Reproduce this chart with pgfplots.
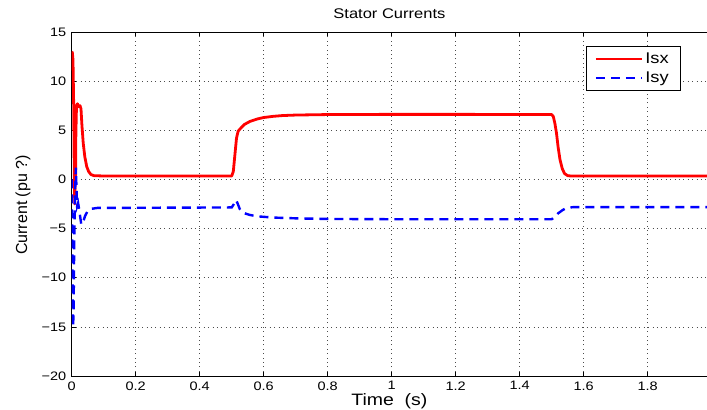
\documentclass[border=0pt]{standalone}
\usepackage{fontspec}
\setmainfont[FakeStretch=1.18]{Liberation Sans}
\newfontfamily\plainfont{Liberation Sans}
\usepackage{pgfplots}
\pgfplotsset{compat=1.18}
\begin{document}
\begin{tikzpicture}
\begin{axis}[
  at={(71.7bp,34bp)}, anchor=south west,
  width=640bp, height=344bp, scale only axis,
  xmin=0, xmax=2, ymin=-20, ymax=15,
  xtick={0,0.2,0.4,0.6,0.8,1,1.2,1.4,1.6,1.8,2},
  xticklabels={0,0.2,0.4,0.6,0.8,1,1.2,1.4,1.6,1.8,{}},
  ytick={-20,-15,-10,-5,0,5,10,15},
  yticklabels={−20,−15,−10,−5,0,5,10,15},
  tick align=inside,
  major tick length=4bp,
  tick style={black, line width=0.6bp},
  axis line style={black, line width=0.8bp},
  grid=major,
  major grid style={black!70, line width=0.5bp, dash pattern=on 0.8bp off 3.6bp},
  tick label style={font=\fontsize{12.3bp}{14bp}\selectfont},
  xticklabel style={yshift=-2bp},
  yticklabel style={xshift=-2bp},
  title={Stator Currents},
  title style={at={(axis description cs:0.4964,1.035)}, anchor=center, font=\fontsize{14bp}{16bp}\selectfont},
  xlabel={Time\ \ (s)},
  xlabel style={at={(axis description cs:0.4964,-0.074)}, anchor=center, font=\fontsize{16.5bp}{18bp}\selectfont},
  ylabel={Current (pu ?)},
  ylabel style={at={(axis description cs:-0.076,0.497)}, anchor=center, rotate=0, font=\plainfont\fontsize{16bp}{18bp}\selectfont},
  legend style={at={(axis description cs:0.803,0.959)}, anchor=north west, draw=black, line width=0.8bp,
    font=\fontsize{15.5bp}{17bp}\selectfont, inner xsep=9bp, inner ysep=4.5bp, row sep=3bp, fill=white,
    nodes={inner xsep=2.5bp}},
  legend cell align=left,
  legend image code/.code={\draw[#1, line width=1.8bp] (0bp,0bp) -- (46bp,0bp);},
]
\addplot[red, line width=2.8bp, line join=round] coordinates {
(0,13.0) (0.002,12.9) (0.004,12.2) (0.006,8.0) (0.008,1.0) (0.0095,-2.5) (0.011,1.5)
(0.012,-0.5) (0.013,4.5) (0.015,7.5) (0.018,7.7) (0.022,7.4) (0.026,7.5) (0.029,7.2)
(0.032,5.5) (0.036,3.7) (0.041,2.3) (0.047,1.3) (0.053,0.8) (0.06,0.5) (0.07,0.38)
(0.1,0.35) (0.3,0.35) (0.5,0.35) (0.505,0.8) (0.51,2.5) (0.515,4.2) (0.52,4.9)
(0.525,5.1) (0.54,5.6) (0.557,5.9) (0.58,6.15) (0.6,6.3) (0.63,6.42) (0.66,6.5)
(0.7,6.55) (0.8,6.6) (1.0,6.62) (1.2,6.62) (1.5,6.6) (1.505,6.4) (1.51,5.7)
(1.515,4.7) (1.52,3.3) (1.526,2.0) (1.533,1.1) (1.54,0.6) (1.55,0.38) (1.56,0.35)
(2.0,0.35)
};
\addlegendentry{Isx}
\addplot[blue, line width=2.4bp, dash pattern=on 9bp off 6bp] coordinates {
(0,0) (0.001,-3) (0.003,-12) (0.0045,-15) (0.006,-13) (0.008,-6) (0.011,-1)
(0.013,1.2) (0.015,-1) (0.017,-2.7) (0.02,-2.4) (0.024,-3.2) (0.03,-4.6) (0.036,-4.3)
(0.042,-3.7) (0.05,-3.2) (0.06,-3.0) (0.08,-2.9) (0.5,-2.85) (0.507,-2.5) (0.513,-2.1)
(0.518,-2.4) (0.525,-3.0) (0.536,-3.4) (0.555,-3.6) (0.578,-3.75) (0.63,-3.88)
(0.71,-3.97) (0.8,-4.02) (1.0,-4.05) (1.5,-4.05) (1.51,-3.8) (1.52,-3.45)
(1.535,-3.1) (1.547,-2.9) (1.567,-2.82) (2.0,-2.82)
};
\addlegendentry{Isy}
\end{axis}
\pgfresetboundingbox
\path[use as bounding box] (0,0) rectangle (707bp,410bp);
\end{tikzpicture}
\end{document}
